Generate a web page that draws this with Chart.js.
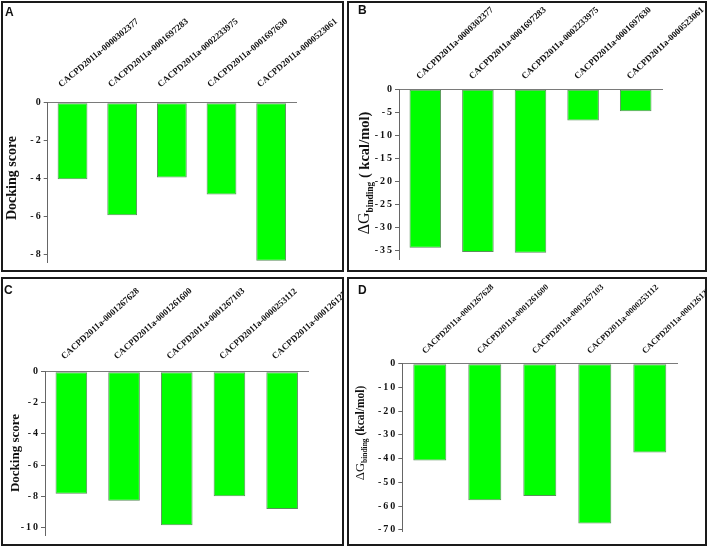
<!DOCTYPE html>
<html>
<head>
<meta charset="utf-8">
<script src="https://cdn.jsdelivr.net/npm/chart.js@4.4.0/dist/chart.umd.min.js"></script>
<style>
body { margin: 0; background: #fff; width: 708px; height: 547px; position: relative; overflow: hidden; }
.panel { position: absolute; border: 2px solid #1a1a1a; box-sizing: border-box; }
.panel canvas { position: absolute; left: 0; top: 0; }
.letter { position: absolute; font: bold 12px "Liberation Sans", Arial, sans-serif; color: #111; }
.ytitle { position: absolute; transform: translate(-50%, -50%) rotate(-90deg); white-space: nowrap;
          font-family: "Liberation Serif", "Times New Roman", serif; font-weight: bold; color: #111; }
.ytitle .dg { font-weight: normal; font-size: 110%; }
.ytitle sub { font-size: 65%; }
</style>
</head>
<body>

<div class="panel" id="pA" style="left:1px;top:1px;width:343px;height:271px"><canvas id="chartA"></canvas></div>
<div class="panel" id="pB" style="left:347px;top:1px;width:360px;height:271px"><canvas id="chartB"></canvas></div>
<div class="panel" id="pC" style="left:1px;top:277px;width:343px;height:269px"><canvas id="chartC"></canvas></div>
<div class="panel" id="pD" style="left:347px;top:277px;width:360px;height:269px"><canvas id="chartD"></canvas></div>

<div class="letter" style="left:5px;top:5px">A</div>
<div class="letter" style="left:358px;top:3px">B</div>
<div class="letter" style="left:4px;top:283px">C</div>
<div class="letter" style="left:358px;top:283px">D</div>

<div class="ytitle" style="left:12px;top:178px;font-size:14px">Docking score</div>
<div class="ytitle" style="left:365px;top:173px;font-size:14.5px"><span class="dg">&Delta;G</span><sub>binding</sub> ( kcal/mol)</div>
<div class="ytitle" style="left:15px;top:453px;font-size:13px">Docking score</div>
<div class="ytitle" style="left:361px;top:433px;font-size:11.5px"><span class="dg">&Delta;G</span><sub>binding</sub> (kcal/mol)</div>

<script>
// compounds in panels A/B and C/D
const compoundsAB = ['CACPD2011a-0000302377', 'CACPD2011a-0001697283', 'CACPD2011a-0002233975', 'CACPD2011a-0001697630', 'CACPD2011a-0000523061'];
const compoundsCD = ['CACPD2011a-0001267628', 'CACPD2011a-0001261600', 'CACPD2011a-0001267103', 'CACPD2011a-0000253112', 'CACPD2011a-0001261277'];

// values
const dockingA = [-4.04, -5.93, -3.94, -4.84, -8.34];
const bindingB = [-34.5, -35.4, -35.6, -6.8, -4.8];
const dockingC = [-7.84, -8.29, -9.87, -8.01, -8.83];
const bindingD = [-40.8, -57.5, -55.8, -67.3, -37.4];

// y tick labels
const ticksA = [0, -2, -4, -6, -8];
const ticksB = [0, -5, -10, -15, -20, -25, -30, -35];
const ticksC = [0, -2, -4, -6, -8, -10];
const ticksD = [0, -10, -20, -30, -40, -50, -60, -70];

const serif = '"Liberation Serif", "Times New Roman", serif';

// spaced out like the old excel labels: "- 3 5"
function spaced(v) {
    return String(v).split('').join('\u2009');
}

// area = plot rectangle in page pixels, lab = rotated category label placement
function makePanel(panelId, canvasId, labels, values, ticks, yMin, area, lab) {
    const panel = document.getElementById(panelId);
    const innerLeft = panel.offsetLeft + 2, innerTop = panel.offsetTop + 2;
    const w = panel.offsetWidth - 4, h = panel.offsetHeight - 4;
    const canvas = document.getElementById(canvasId);
    canvas.width = w;
    canvas.height = h;

    new Chart(canvas.getContext('2d'), {
        type: 'bar',
        data: {
            labels: labels,
            datasets: [{
                data: values,
                backgroundColor: '#00ff00',
                borderColor: '#5b8f5b',
                borderWidth: 1,
                borderSkipped: false,
                categoryPercentage: 0.6,
                barPercentage: 1.0
            }]
        },
        options: {
            responsive: false,
            animation: false,
            devicePixelRatio: 1,
            layout: {
                padding: { left: 0, top: 0, right: w - (area.r - innerLeft), bottom: h - (area.b - innerTop) }
            },
            plugins: { legend: { display: false }, tooltip: { enabled: false } },
            scales: {
                x: {
                    position: 'top',
                    grid: { display: false },
                    border: { display: true, color: '#7a7a7a', width: 1 },
                    ticks: {
                        minRotation: lab.angle,
                        maxRotation: lab.angle,
                        padding: lab.pad,
                        labelOffset: lab.offset,
                        color: '#111',
                        font: { family: serif, weight: 'bold', size: lab.size }
                    },
                    afterCalculateLabelRotation: function(s) {
                        s.labelRotation = lab.angle;
                    },
                    afterFit: function(s) {
                        s.height = area.t - innerTop;
                        s.paddingLeft = 0; s.paddingRight = 0; s.paddingTop = 0; s.paddingBottom = 0;
                    }
                },
                y: {
                    min: yMin,
                    max: 0,
                    grid: { display: true, drawOnChartArea: false, drawTicks: true, tickLength: 4, color: '#666' },
                    border: { display: true, color: '#666', width: 1 },
                    ticks: {
                        padding: 3,
                        color: '#111',
                        font: { family: serif, weight: 'bold', size: 10 },
                        callback: function(v) { return spaced(v); }
                    },
                    afterBuildTicks: function(s) {
                        s.ticks = ticks.map(function(v) { return { value: v }; });
                    },
                    afterFit: function(s) {
                        s.width = area.l - innerLeft;
                        s.paddingLeft = 0; s.paddingRight = 0; s.paddingTop = 0; s.paddingBottom = 0;
                    }
                }
            }
        }
    });
}

makePanel('pA', 'chartA', compoundsAB, dockingA, ticksA, -8.4,
    { l: 47.7, t: 102.7, r: 296, b: 262 }, { angle: 40, size: 9, offset: -5.8, pad: 4.9 });
makePanel('pB', 'chartB', compoundsAB, bindingB, ticksB, -37,
    { l: 399, t: 89.3, r: 662, b: 259.3 }, { angle: 43, size: 9, offset: 0.1, pad: -0.5 });
makePanel('pC', 'chartC', compoundsCD, dockingC, ticksC, -10.5,
    { l: 45, t: 371.7, r: 308.5, b: 535 }, { angle: 42, size: 9, offset: -1.4, pad: 1.9 });
makePanel('pD', 'chartD', compoundsCD, bindingD, ticksD, -70.5,
    { l: 402.3, t: 363.7, r: 677.3, b: 531 }, { angle: 44, size: 8.5, offset: 0.9, pad: -0.5 });
</script>
</body>
</html>
